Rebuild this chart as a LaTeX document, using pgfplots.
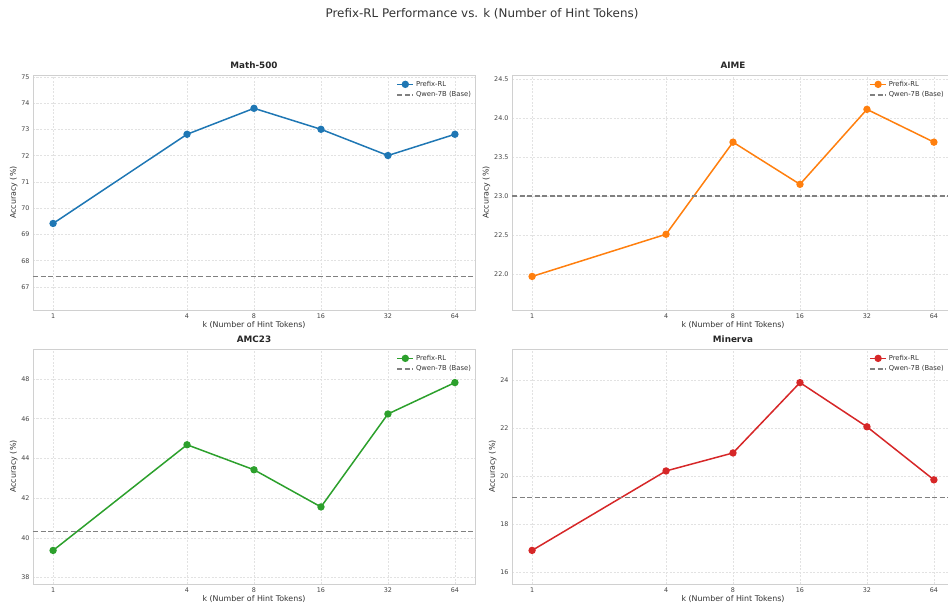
\documentclass[border=0pt]{standalone}
\usepackage{fontspec}
\setmainfont{DejaVu Sans}
\usepackage{pgfplots}
\pgfplotsset{compat=1.18}
\definecolor{tabblue}{HTML}{1F77B4}
\definecolor{taborange}{HTML}{FF7F0E}
\definecolor{tabgreen}{HTML}{2CA02C}
\definecolor{tabred}{HTML}{D62728}
\definecolor{basegray}{HTML}{808080}
\definecolor{gridgray}{HTML}{E2E2E2}
\definecolor{framegray}{HTML}{D0D0D0}
\definecolor{ticktext}{HTML}{444444}
\definecolor{labtext}{HTML}{333333}
\pgfplotsset{
  scale only axis, width=442pt, height=235pt,
  xmin=0.8123, xmax=78.79,
  xtick={1,4,8,16,32,64}, xticklabels={1,4,8,16,32,64},
  grid=major, major grid style={gridgray, line width=0.6pt, dash pattern=on 2pt off 1.5pt},
  axis line style={framegray, line width=0.9pt},
  major tick length=0pt, tick style={draw=none},
  ticklabel style={font=\fontsize{6.4}{7.5}\selectfont, text=ticktext},
  /pgf/number format/assume math mode=true,
  xlabel={k (Number of Hint Tokens)}, ylabel={Accuracy (\%)},
  label style={font=\fontsize{7.9}{9}\selectfont, text=labtext},
  xlabel style={yshift=3.5pt},
  ylabel style={yshift=-3pt},
  title style={font=\bfseries\fontsize{8.8}{10}\selectfont, text=black!85, yshift=-3pt},
  legend style={at={(0.998,0.988)}, anchor=north east, draw=none, fill=none,
    font=\fontsize{6.8}{8}\selectfont, text=labtext, row sep=0pt, inner sep=1pt},
  legend cell align=left,
  legend image code/.code={\draw[mark repeat=2,mark phase=2] plot coordinates {(0cm,0cm)(0.28cm,0cm)(0.56cm,0cm)};},
  pdata/.style={line width=1.5pt, mark=*, mark size=2.9pt, mark options={solid}},
  pbase/.style={basegray, line width=1.2pt, dash pattern=on 5pt off 2.5pt},
}
\begin{document}
\begin{tikzpicture}
\useasboundingbox (0,0) rectangle (948pt,-606pt);
\node[font=\fontsize{11.9}{14}\selectfont, text=labtext] at (482pt,-14pt) {Prefix-RL Performance vs. k (Number of Hint Tokens)};

\begin{axis}[xmode=log, log basis x=2, at={(33pt,-310pt)}, anchor=south west, title={Math-500},
  ymin=66.12, ymax=75.08, ytick={67,68,...,75}]
\addplot[pdata, tabblue] coordinates {(1,69.42) (4,72.82) (8,73.81) (16,73.01) (32,72.01) (64,72.82)};
\addlegendentry{Prefix-RL}
\addplot[pbase] coordinates {(0.8123,67.41) (78.79,67.41)};
\addlegendentry{Qwen-7B (Base)}
\end{axis}

\begin{axis}[xmode=log, log basis x=2, at={(512pt,-310pt)}, anchor=south west, title={AIME},
  ymin=21.54, ymax=24.55, ytick={22,22.5,...,24.5},
  legend style={at={(0.984,0.988)}},
  yticklabel style={/pgf/number format/.cd, fixed, fixed zerofill, precision=1}]
\addplot[pdata, taborange] coordinates {(1,21.97) (4,22.51) (8,23.69) (16,23.15) (32,24.11) (64,23.69)};
\addlegendentry{Prefix-RL}
\addplot[pbase] coordinates {(0.8123,23.0) (78.79,23.0)};
\addlegendentry{Qwen-7B (Base)}
\end{axis}

\begin{axis}[xmode=log, log basis x=2, at={(33pt,-584pt)}, anchor=south west, title={AMC23},
  ymin=37.68, ymax=49.51, ytick={38,40,...,48}]
\addplot[pdata, tabgreen] coordinates {(1,39.37) (4,44.69) (8,43.43) (16,41.56) (32,46.24) (64,47.82)};
\addlegendentry{Prefix-RL}
\addplot[pbase] coordinates {(0.8123,40.31) (78.79,40.31)};
\addlegendentry{Qwen-7B (Base)}
\end{axis}

\begin{axis}[xmode=log, log basis x=2, at={(512pt,-584pt)}, anchor=south west, title={Minerva},
  ymin=15.51, ymax=25.3, ytick={16,18,...,24},
  legend style={at={(0.984,0.988)}}]
\addplot[pdata, tabred] coordinates {(1,16.91) (4,20.22) (8,20.97) (16,23.90) (32,22.06) (64,19.85)};
\addlegendentry{Prefix-RL}
\addplot[pbase] coordinates {(0.8123,19.10) (78.79,19.10)};
\addlegendentry{Qwen-7B (Base)}
\end{axis}
\end{tikzpicture}
\end{document}
